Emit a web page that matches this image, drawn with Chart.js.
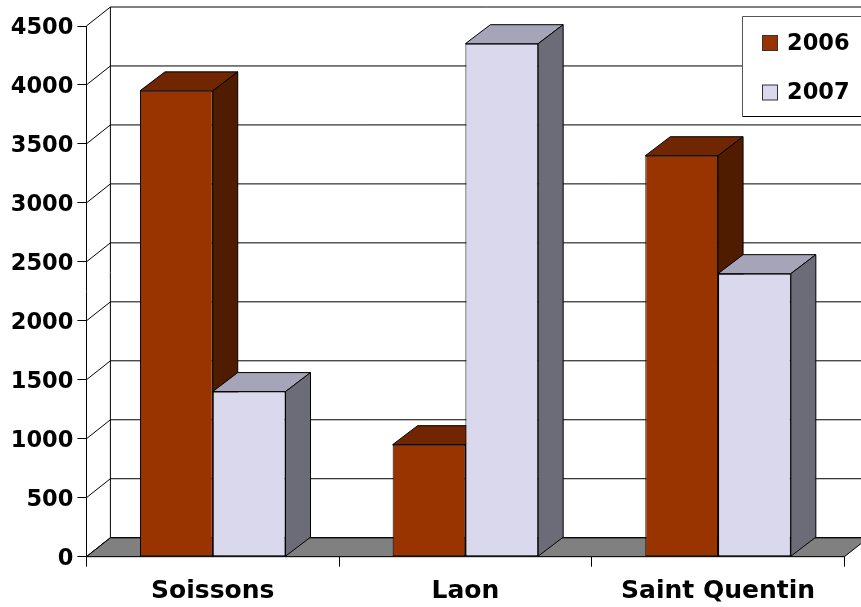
<!DOCTYPE html>
<html>
<head>
<meta charset="utf-8">
<title>Soissons Laon Saint Quentin</title>
<script src="https://cdn.jsdelivr.net/npm/chart.js@4"></script>
<style>
  html, body { margin: 0; padding: 0; background: #fff; }
  canvas { display: block; }
</style>
</head>
<body>
<canvas id="myChart" width="861" height="607"></canvas>
<script>
const categories = ["Soissons", "Laon", "Saint Quentin"];
const values2006 = [3950, 950, 3400];
const values2007 = [1400, 4350, 2400];
const seriesLabels = ["2006", "2007"];

const frontColors = ["#993300", "#d9d8ec"];
const topColors = ["#702600", "#a5a4b9"];
const sideColors = ["#501c00", "#6c6b78"];

const FONT = { family: "'DejaVu Sans', sans-serif", size: 22.5, weight: "bold" };
const CAT_FONT = { family: "'DejaVu Sans', sans-serif", size: 25, weight: "bold" };
const DX = 24;
const BAR_DX = 25;
const DY = 19;

function poly(ctx, pts, fill) {
  ctx.beginPath();
  pts.forEach((p, i) => (i ? ctx.lineTo(p[0], p[1]) : ctx.moveTo(p[0], p[1])));
  ctx.closePath();
  if (fill) {
    ctx.fillStyle = fill;
    ctx.fill();
  }
  ctx.stroke();
}

// back wall, floor and the depth faces of the bars
const depthPlugin = {
  id: "depth",
  beforeDatasetsDraw(chart) {
    const ctx = chart.ctx;
    const y = chart.scales.y;
    const x = chart.scales.x;
    const left = x.left;
    const right = x.right;
    const bottom = y.getPixelForValue(0);
    ctx.save();
    ctx.lineWidth = 1;
    ctx.strokeStyle = "#000";

    poly(ctx, [[left, bottom], [left + DX, bottom - DY], [right + DX, bottom - DY], [right, bottom]], "#808080");

    y.ticks.forEach((t) => {
      const py = y.getPixelForValue(t.value);
      ctx.beginPath();
      ctx.moveTo(left, py);
      ctx.lineTo(left + DX, py - DY);
      ctx.lineTo(right + DX, py - DY);
      ctx.stroke();
    });
    ctx.beginPath();
    ctx.moveTo(left + DX, bottom - DY);
    ctx.lineTo(left + DX, y.getPixelForValue(4500) - DY);
    ctx.stroke();

    // first series first, so the second one covers its depth faces
    chart.data.datasets.forEach((ds, i) => {
      const meta = chart.getDatasetMeta(i);
      meta.data.forEach((bar) => {
        const b = bar.getProps(["x", "y", "base", "width"]);
        const l = b.x - b.width / 2;
        const r = b.x + b.width / 2;
        poly(ctx, [[l, b.y], [l + BAR_DX, b.y - DY], [r + BAR_DX, b.y - DY], [r, b.y]], topColors[i]);
        poly(ctx, [[r, b.y], [r + BAR_DX, b.y - DY], [r + BAR_DX, b.base - DY], [r, b.base]], sideColors[i]);
      });
      meta.controller.draw();
    });
    ctx.restore();
    return false;
  },
  afterDraw(chart) {
    const ctx = chart.ctx;
    ctx.save();
    ctx.lineWidth = 1;
    ctx.fillStyle = "#fff";
    ctx.fillRect(742, 16, 119, 100);
    ctx.strokeStyle = "#555";
    ctx.beginPath();
    ctx.moveTo(861, 16.5);
    ctx.lineTo(742.5, 16.5);
    ctx.lineTo(742.5, 116.5);
    ctx.stroke();
    ctx.strokeStyle = "#000";
    ctx.beginPath();
    ctx.moveTo(742.5, 116.5);
    ctx.lineTo(861, 116.5);
    ctx.stroke();

    ctx.font = FONT.weight + " " + FONT.size + "px " + FONT.family;
    ctx.textBaseline = "middle";
    ctx.textAlign = "left";
    const rows = [43, 92.5];
    seriesLabels.forEach((label, i) => {
      ctx.fillStyle = frontColors[i];
      ctx.strokeStyle = "#333";
      ctx.fillRect(762.5, rows[i] - 7.5, 15, 15);
      ctx.strokeRect(762.5, rows[i] - 7.5, 15, 15);
      ctx.fillStyle = "#000";
      ctx.fillText(label, 787, rows[i] + 1);
    });
    ctx.restore();
  },
};

const ctx = document.getElementById("myChart");
new Chart(ctx, {
  type: "bar",
  data: {
    labels: categories,
    datasets: [
      {
        label: seriesLabels[0],
        data: values2006,
        backgroundColor: frontColors[0],
      },
      {
        label: seriesLabels[1],
        data: values2007,
        backgroundColor: frontColors[1],
      },
    ],
  },
  plugins: [depthPlugin],
  options: {
    responsive: false,
    animation: false,
    devicePixelRatio: 1,
    layout: { padding: { left: 0, right: 16.6, top: 26, bottom: 0 } },
    datasets: {
      bar: {
        categoryPercentage: 0.576,
        barPercentage: 1,
        borderWidth: 1,
        borderColor: "#000",
        borderSkipped: false,
      },
    },
    plugins: {
      legend: { display: false },
      tooltip: { enabled: false },
    },
    scales: {
      x: {
        afterFit(scale) {
          scale.height = 50.3;
        },
        grid: { drawOnChartArea: false, color: "#000", tickLength: 10 },
        border: { color: "#000", width: 1 },
        ticks: { color: "#000", font: CAT_FONT, padding: 10, maxRotation: 0 },
      },
      y: {
        min: 0,
        max: 4500,
        afterFit(scale) {
          scale.width = 86.4;
        },
        grid: { drawOnChartArea: false, color: "#000", tickLength: 9 },
        border: { color: "#000", width: 1 },
        ticks: {
          stepSize: 500,
          color: "#000",
          font: FONT,
          padding: 4,
          labelOffset: 2,
          callback: (v) => String(v),
        },
      },
    },
  },
});
</script>
</body>
</html>
